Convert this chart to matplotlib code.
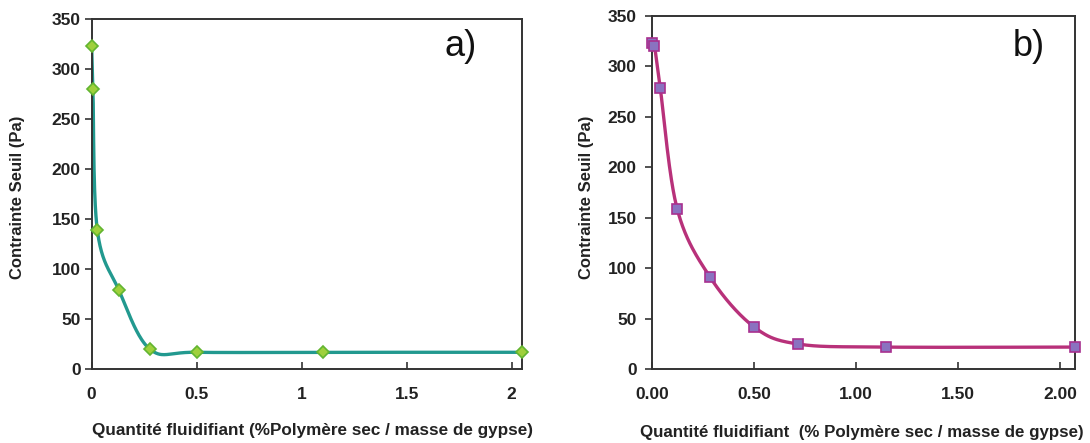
import matplotlib
matplotlib.use("Agg")
import matplotlib.pyplot as plt
import numpy as np

plt.rcParams["font.family"] = ["Liberation Sans", "DejaVu Sans"]

# a) data
xa = [0.0, 0.006, 0.027, 0.13, 0.278, 0.5, 1.1, 2.048]
ya = [323, 280, 139, 79, 20, 17, 17, 17]
# b) data
xb = [0.0, 0.013, 0.041, 0.124, 0.286, 0.5, 0.717, 1.144, 2.07]
yb = [323, 320, 279, 159, 91, 42, 25, 22, 22]

TEAL = "#22998f"; GREEN_F = "#9fd03c"; GREEN_E = "#62b530"
MAG = "#b8317a"; PURP_F = "#8a72c0"; PURP_E = "#a8308f"
AX = "#333333"


def smooth(x, y, sx, sy, n=40):
    # Excel-like smoothed line: cubic Bezier through points, scaled to screen units
    p = np.column_stack([np.asarray(x) * sx, np.asarray(y) * sy])
    out = []
    for i in range(len(p) - 1):
        p0 = p[i - 1] if i > 0 else p[i]
        p1, p2 = p[i], p[i + 1]
        p3 = p[i + 2] if i + 2 < len(p) else p[i + 1]
        c1 = p1 + (p2 - p0) / 6
        c2 = p2 - (p3 - p1) / 6
        t = np.linspace(0, 1, n)[:, None]
        seg = (1 - t) ** 3 * p1 + 3 * (1 - t) ** 2 * t * c1 + 3 * (1 - t) * t ** 2 * c2 + t ** 3 * p2
        out.append(seg)
    s = np.vstack(out)
    return s[:, 0] / sx, s[:, 1] / sy


fig = plt.figure(figsize=(10.9, 4.43), dpi=100)
axa = fig.add_axes([0.0841, 0.1664, 0.3945, 0.790])
axb = fig.add_axes([0.598, 0.1664, 0.388, 0.7975])

for ax, x, y, xmax, lc, mk, mf, me, ms, lab, lpos, xt, xtl in [
    (axa, xa, ya, 2.048, TEAL, "D", GREEN_F, GREEN_E, 6.5, "a)", (0.857, 0.921),
     [0, 0.5, 1, 1.5, 2], ["0", "0.5", "1", "1.5", "2"]),
    (axb, xb, yb, 2.07, MAG, "s", PURP_F, PURP_E, 7.5, "b)", (0.892, 0.913),
     [0, 0.5, 1, 1.5, 2], ["0.00", "0.50", "1.00", "1.50", "2.00"]),
]:
    sx, sy = 430 / xmax, 350 / 350
    cx, cy = smooth(x, y, sx, sy)
    ax.plot(cx, cy, color=lc, lw=2.4, zorder=2)
    ax.plot(x, y, ls="none", marker=mk, ms=ms, mfc=mf, mec=me, mew=1.2, zorder=3, clip_on=False)
    ax.set_xlim(0, xmax)
    ax.set_ylim(0, 350)
    ax.set_yticks(range(0, 351, 50))
    ax.set_xticks(xt)
    ax.set_xticklabels(xtl)
    for s in ax.spines.values():
        s.set_color(AX); s.set_linewidth(1.4)
    ax.tick_params(axis="y", direction="out", length=5, width=1.2, color=AX, labelsize=12.5, pad=3)
    ax.tick_params(axis="x", direction="in", length=5, width=1.2, color=AX, labelsize=12.5, pad=13)
    for t in ax.get_xticklabels() + ax.get_yticklabels():
        t.set_fontweight("bold"); t.set_color("#222222")
    ax.text(lpos[0], lpos[1], lab, transform=ax.transAxes, fontsize=26, ha="center", va="center", color="#111111")

axb.tick_params(axis="y", pad=6)

fig.text(18 / 1090, 1 - 197 / 443, "Contrainte Seuil (Pa)", rotation=90, ha="center", va="center",
         fontsize=12, fontweight="bold", color="#222222")
fig.text(586 / 1090, 1 - 197 / 443, "Contrainte Seuil (Pa)", rotation=90, ha="center", va="center",
         fontsize=12, fontweight="bold", color="#222222")
fig.text(313 / 1090, 1 - 430 / 443, "Quantité fluidifiant (%Polymère sec / masse de gypse)",
         ha="center", va="center", fontsize=12.3, fontweight="bold", color="#222222")
fig.text(862 / 1090, 1 - 433 / 443, "Quantité fluidifiant  (% Polymère sec / masse de gypse)",
         ha="center", va="center", fontsize=12.2, fontweight="bold", color="#222222")

fig.savefig("out.png", dpi=100, facecolor="white")
